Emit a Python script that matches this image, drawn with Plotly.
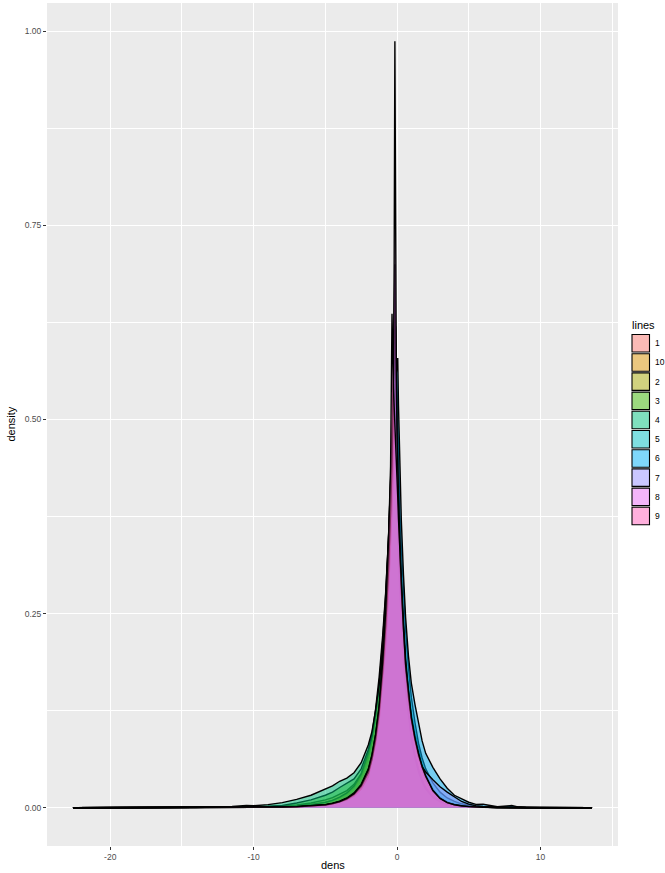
import plotly.graph_objects as go

# Shared evaluation grid for the density estimates
dens_grid = ([-22.6, -14, -11.5, -10.5, -10, -9, -8, -7, -6, -5, -4.5, -4, -3.5, -3, -2.5, -2]
             + [-1.75, -1.5, -1.25, -1, -0.8, -0.6, -0.45, -0.35, -0.25, -0.2, -0.15, -0.1, -0.05]
             + [0, 0.05, 0.1, 0.2, 0.3, 0.45, 0.6, 0.8, 1, 1.25, 1.5, 1.75, 2]
             + [2.5, 3, 3.5, 4, 4.5, 5, 5.5, 6, 7, 8, 8.5, 9, 10, 13.6])

line_levels = ["1", "10", "2", "3", "4", "5", "6", "7", "8", "9"]
line_colors = ["#F8766D", "#D89000", "#A3A500", "#39B600", "#00BF7D",
               "#00BFC4", "#00B0F6", "#9590FF", "#E76BF3", "#FF62BC"]

density_1 = ([0, 0, 0.0002, 0.0005, 0.0006, 0.001, 0.0016, 0.0025, 0.004, 0.007, 0.0095, 0.013, 0.018, 0.026, 0.040, 0.064]
             + [0.084, 0.112, 0.150, 0.205, 0.262, 0.335, 0.405, 0.455, 0.515, 0.540, 0.560, 0.530, 0.480]
             + [0.440, 0.405, 0.370, 0.320, 0.280, 0.232, 0.190, 0.152, 0.122, 0.096, 0.074, 0.056, 0.043]
             + [0.024, 0.013, 0.0075, 0.0045, 0.0028, 0.0017, 0.001, 0.0007, 0.0004, 0.0002, 0.0002, 0.0001, 0, 0])

density_10 = ([0, 0.0001, 0.0003, 0.0006, 0.0008, 0.0012, 0.002, 0.0035, 0.006, 0.010, 0.013, 0.017, 0.022, 0.030, 0.044, 0.068]
              + [0.088, 0.118, 0.158, 0.215, 0.272, 0.345, 0.412, 0.468, 0.525, 0.550, 0.540, 0.505, 0.462]
              + [0.425, 0.392, 0.360, 0.312, 0.272, 0.224, 0.180, 0.143, 0.113, 0.087, 0.066, 0.050, 0.038]
              + [0.020, 0.011, 0.0062, 0.0038, 0.0022, 0.0014, 0.0009, 0.0006, 0.0003, 0.0002, 0.0001, 0.0001, 0, 0])

density_2 = ([0, 0, 0.0002, 0.0004, 0.0005, 0.0009, 0.0014, 0.0022, 0.0038, 0.0068, 0.0095, 0.0135, 0.019, 0.028, 0.043, 0.071]
             + [0.094, 0.126, 0.168, 0.222, 0.275, 0.345, 0.415, 0.475, 0.545, 0.578, 0.600, 0.560, 0.500]
             + [0.450, 0.405, 0.365, 0.310, 0.268, 0.218, 0.175, 0.138, 0.109, 0.084, 0.064, 0.048, 0.036]
             + [0.019, 0.010, 0.0058, 0.0034, 0.002, 0.0012, 0.0007, 0.0005, 0.0003, 0.0002, 0.0001, 0, 0, 0])

density_3 = ([0, 0.0001, 0.0008, 0.0015, 0.0012, 0.0018, 0.003, 0.006, 0.010, 0.016, 0.020, 0.026, 0.031, 0.037, 0.050, 0.075]
             + [0.092, 0.120, 0.156, 0.205, 0.255, 0.322, 0.390, 0.445, 0.520, 0.565, 0.548, 0.500, 0.450]
             + [0.410, 0.375, 0.342, 0.292, 0.252, 0.204, 0.160, 0.122, 0.093, 0.068, 0.050, 0.036, 0.026]
             + [0.014, 0.008, 0.0045, 0.0028, 0.0017, 0.001, 0.0007, 0.0005, 0.0003, 0.0002, 0.0001, 0, 0, 0])

density_4 = ([0, 0.0002, 0.0015, 0.003, 0.0025, 0.004, 0.0065, 0.0107, 0.016, 0.0236, 0.028, 0.034, 0.038, 0.045, 0.058, 0.081]
             + [0.098, 0.125, 0.158, 0.203, 0.248, 0.305, 0.365, 0.418, 0.485, 0.520, 0.505, 0.465, 0.420]
             + [0.385, 0.352, 0.322, 0.275, 0.238, 0.192, 0.150, 0.114, 0.087, 0.064, 0.046, 0.033, 0.024]
             + [0.013, 0.0075, 0.0042, 0.0026, 0.0016, 0.001, 0.0007, 0.0005, 0.0003, 0.0002, 0.0001, 0, 0, 0])

density_5 = ([0, 0, 0.0001, 0.0002, 0.0003, 0.0005, 0.0008, 0.0013, 0.0022, 0.004, 0.0058, 0.0085, 0.0125, 0.019, 0.030, 0.050]
             + [0.068, 0.094, 0.130, 0.185, 0.240, 0.315, 0.385, 0.440, 0.505, 0.545, 0.585, 0.620, 0.580]
             + [0.530, 0.480, 0.440, 0.380, 0.335, 0.280, 0.228, 0.180, 0.142, 0.110, 0.083, 0.064, 0.050]
             + [0.032, 0.020, 0.0125, 0.008, 0.005, 0.0032, 0.002, 0.0015, 0.0008, 0.0005, 0.0003, 0.0002, 0.0001, 0])

density_6 = ([0, 0, 0.0001, 0.0002, 0.0003, 0.0004, 0.0006, 0.001, 0.0018, 0.0032, 0.0046, 0.0068, 0.010, 0.015, 0.024, 0.040]
             + [0.060, 0.082, 0.112, 0.160, 0.208, 0.275, 0.335, 0.385, 0.445, 0.480, 0.505, 0.535, 0.560]
             + [0.572, 0.579, 0.520, 0.430, 0.370, 0.300, 0.245, 0.195, 0.160, 0.133, 0.108, 0.086, 0.070]
             + [0.052, 0.037, 0.025, 0.016, 0.011, 0.007, 0.0042, 0.0045, 0.0012, 0.0028, 0.0008, 0.0002, 0.0001, 0])

density_7 = ([0, 0, 0.0001, 0.0002, 0.0002, 0.0004, 0.0007, 0.0012, 0.002, 0.0036, 0.0052, 0.0078, 0.0115, 0.0175, 0.028, 0.047]
             + [0.064, 0.089, 0.124, 0.178, 0.232, 0.305, 0.375, 0.435, 0.515, 0.580, 0.700, 0.600, 0.520]
             + [0.470, 0.430, 0.395, 0.340, 0.295, 0.240, 0.192, 0.148, 0.115, 0.087, 0.066, 0.053, 0.046]
             + [0.036, 0.027, 0.020, 0.0135, 0.008, 0.0045, 0.0025, 0.0015, 0.0007, 0.0004, 0.0002, 0.0001, 0, 0])

density_8 = ([0, 0, 0.0001, 0.0002, 0.0002, 0.0004, 0.0007, 0.0011, 0.0019, 0.0034, 0.005, 0.0075, 0.011, 0.017, 0.027, 0.045]
             + [0.062, 0.087, 0.122, 0.176, 0.232, 0.305, 0.380, 0.450, 0.560, 0.700, 0.987, 0.720, 0.560]
             + [0.480, 0.430, 0.385, 0.325, 0.280, 0.225, 0.180, 0.142, 0.113, 0.088, 0.068, 0.052, 0.040]
             + [0.022, 0.012, 0.0066, 0.0038, 0.0022, 0.0013, 0.0008, 0.0004, 0.0002, 0.0001, 0.0001, 0, 0, 0])

density_9 = ([0, 0, 0.0001, 0.0002, 0.0003, 0.0005, 0.0008, 0.0013, 0.0022, 0.0038, 0.0055, 0.008, 0.012, 0.018, 0.029, 0.049]
             + [0.067, 0.093, 0.130, 0.188, 0.250, 0.340, 0.440, 0.636, 0.540, 0.520, 0.500, 0.475, 0.450]
             + [0.425, 0.400, 0.372, 0.325, 0.283, 0.230, 0.184, 0.146, 0.116, 0.090, 0.069, 0.053, 0.041]
             + [0.022, 0.012, 0.0066, 0.0038, 0.0022, 0.0013, 0.0008, 0.0004, 0.0002, 0.0001, 0.0001, 0, 0, 0])

x_tick_vals = [-20, -10, 0, 10]
x_tick_text = ["-20", "-10", "0", "10"]
y_tick_vals = [0.0, 0.25, 0.5, 0.75, 1.0]

densities = [density_1, density_10, density_2, density_3, density_4,
             density_5, density_6, density_7, density_8, density_9]
for d in densities:
    assert len(d) == len(dens_grid), len(d)


def with_alpha(hex_color, a):
    h = hex_color.lstrip("#")
    r, g, b = int(h[0:2], 16), int(h[2:4], 16), int(h[4:6], 16)
    return f"rgba({r},{g},{b},{a})"


W, H = 665, 873
L, R, T, B = 47, 47, 3, 27

fig = go.Figure()
for name, col, dens in zip(line_levels, line_colors, densities):
    fig.add_trace(go.Scatter(
        x=dens_grid, y=dens, mode="lines", name=name,
        fill="tozeroy", fillcolor=with_alpha(col, 0.5),
        line=dict(color="black", width=1.4),
        showlegend=False, hoverinfo="skip",
    ))

x_lo, x_hi = -22.6, 13.6
x_pad = (x_hi - x_lo) * 0.05
y_hi = max(max(d) for d in densities)
y_pad = y_hi * 0.05

font_family = "Liberation Sans, Arial, sans-serif"
axis_common = dict(
    showgrid=True, gridcolor="white", gridwidth=1.1,
    zeroline=False, showline=False, automargin=False,
    ticks="outside", ticklen=3, tickwidth=1, tickcolor="#333333",
    tickfont=dict(family=font_family, size=8.5, color="#4D4D4D"),
)

fig.update_layout(
    width=W, height=H,
    margin=dict(l=L, r=R, t=T, b=B),
    paper_bgcolor="white", plot_bgcolor="#EBEBEB",
    font=dict(family=font_family),
    showlegend=False,
    xaxis=dict(range=[x_lo - x_pad, x_hi + x_pad], tickvals=x_tick_vals, ticktext=x_tick_text,
               minor=dict(dtick=5, tick0=-15, showgrid=True, gridcolor="white", gridwidth=0.55, ticks=""),
               **axis_common),
    yaxis=dict(range=[-y_pad, y_hi + y_pad], tickvals=y_tick_vals, tickformat=".2f",
               minor=dict(dtick=0.25, tick0=0.125, showgrid=True, gridcolor="white", gridwidth=0.55, ticks=""),
               **axis_common),
)

pw, ph = W - L - R, H - T - B


def px_x(p):
    return (p - L) / pw


def px_y(p):
    return (H - B - p) / ph


# Axis titles
fig.add_annotation(text="dens", x=px_x(L + pw / 2), y=px_y(865), xref="paper", yref="paper",
                   showarrow=False, font=dict(size=11, color="black"), xanchor="center", yanchor="middle")
fig.add_annotation(text="density", x=px_x(10), y=px_y(T + ph / 2), xref="paper", yref="paper",
                   showarrow=False, textangle=-90, font=dict(size=11, color="black"),
                   xanchor="center", yanchor="middle")

# Legend: title, keys and labels
fig.add_annotation(text="lines", x=px_x(630), y=px_y(325), xref="paper", yref="paper",
                   showarrow=False, font=dict(size=11, color="black"), xanchor="left", yanchor="middle")
key_top, key_step, key_size = 334.5, 19.2, 17.5
for i, (name, col) in enumerate(zip(line_levels, line_colors)):
    y0 = key_top + i * key_step
    fig.add_shape(type="rect", xref="paper", yref="paper",
                  x0=px_x(632), x1=px_x(632 + key_size), y0=px_y(y0), y1=px_y(y0 + key_size),
                  fillcolor=with_alpha(col, 0.5), line=dict(color="black", width=1.1), layer="above")
    fig.add_annotation(text=name, x=px_x(652.5), y=px_y(y0 + key_size / 2), xref="paper", yref="paper",
                       showarrow=False, font=dict(size=8.5, color="black"), xanchor="left", yanchor="middle")

fig.write_html("out.html")
